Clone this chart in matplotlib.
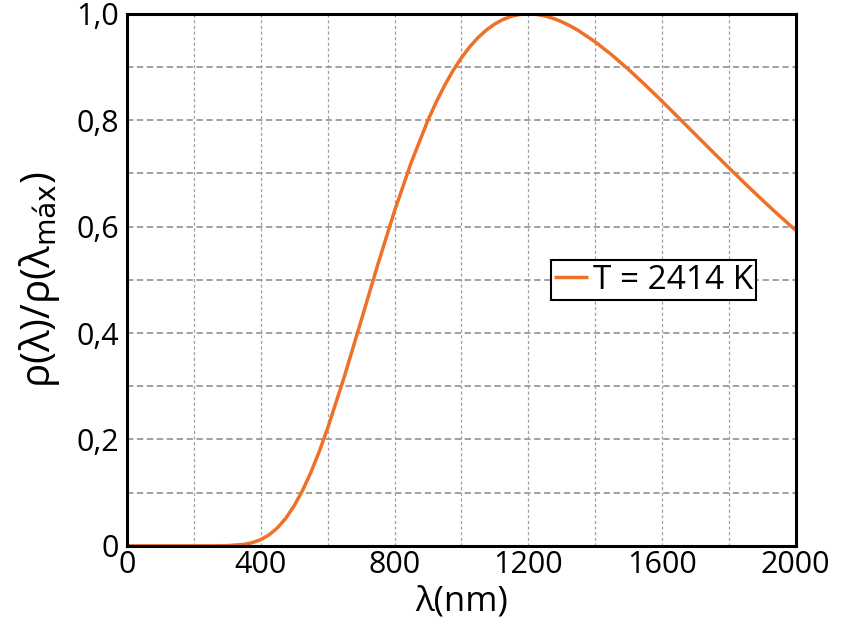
import numpy as np
import matplotlib.pyplot as plt
from matplotlib.ticker import MultipleLocator, FixedLocator

# valores (normalizada ao pico)
comprimento_onda = [0, 50, 100, 150, 200, 250, 300, 350, 375, 400, 425, 450, 475,
                    500, 525, 550, 575, 600, 650, 700, 750, 800, 850, 900, 925, 950,
                    975, 1000, 1025, 1050, 1075, 1100, 1125, 1150, 1175, 1200, 1225,
                    1250, 1275, 1300, 1325, 1350, 1400, 1450, 1500, 1550, 1600,
                    1650, 1700, 1750, 1800, 1850, 1900, 1950, 2000]
rho_norm = [0.0, 0.0, 0.0, 0.0, 0.0, 0.0, 0.0003, 0.0027, 0.006, 0.0117, 0.0208,
            0.034, 0.0521, 0.0756, 0.1044, 0.1386, 0.1777, 0.2213, 0.3185, 0.4233,
            0.529, 0.6297, 0.721, 0.8003, 0.8347, 0.8658, 0.8934, 0.9174, 0.9382,
            0.9556, 0.9698, 0.9811, 0.9896, 0.9955, 0.9989, 1.0, 0.999, 0.9961,
            0.9914, 0.9852, 0.9775, 0.9686, 0.9475, 0.9228, 0.8955, 0.8663,
            0.8359, 0.8046, 0.7732, 0.7418, 0.7107, 0.6801, 0.6502, 0.6212, 0.5932]
rotulo_serie = 'T = 2414 K'
ticks_x = [0, 400, 800, 1200, 1600, 2000]
ticks_y = [0, 0.2, 0.4, 0.6, 0.8, 1.0]
rotulos_y = ['0', '0,2', '0,4', '0,6', '0,8', '1,0']

plt.rcParams['font.family'] = ['Open Sans', 'DejaVu Sans']

fig = plt.figure(figsize=(8.42, 6.31), dpi=100)
ax = fig.add_axes([0.151, 0.135, 0.794, 0.843])

ax.plot(comprimento_onda, rho_norm, color='#EE7127', linewidth=2.5, label=rotulo_serie,
        solid_capstyle='butt', zorder=3)

ax.set_xlim(0, 2000)
ax.set_ylim(0, 1.0)
ax.xaxis.set_major_locator(FixedLocator(ticks_x))
ax.yaxis.set_major_locator(FixedLocator(ticks_y))
ax.set_yticklabels(rotulos_y)
ax.xaxis.set_minor_locator(MultipleLocator(200))
ax.yaxis.set_minor_locator(MultipleLocator(0.1))

ax.tick_params(which='both', length=0, labelsize=22)
ax.tick_params(axis='x', pad=3)
ax.tick_params(axis='y', pad=6)

ax.grid(which='both', axis='y', color='#9a9a9a', linestyle=(0, (3.5, 2)), linewidth=1.3)
ax.grid(which='both', axis='x', color='#a0a0a0', linestyle=(0, (2.5, 2)), linewidth=0.9)

for s in ax.spines.values():
    s.set_linewidth(2.2)
    s.set_color('black')
    s.set_zorder(4)

ax.set_xlabel('λ(nm)', fontsize=25, labelpad=3)
ax.set_ylabel(r'ρ(λ)/ρ(λ$_{\mathrm{máx}}$)', fontsize=29, labelpad=10)

leg = ax.legend(loc='upper left', bbox_to_anchor=(0.634, 0.537), fontsize=24,
                frameon=True, fancybox=False, handlelength=1.0, handletextpad=0.15,
                borderpad=0.1, borderaxespad=0)
leg.get_frame().set_edgecolor('black')
leg.get_frame().set_linewidth(1.5)
leg.get_frame().set_alpha(1)

fig.savefig('out.png', dpi=100)
